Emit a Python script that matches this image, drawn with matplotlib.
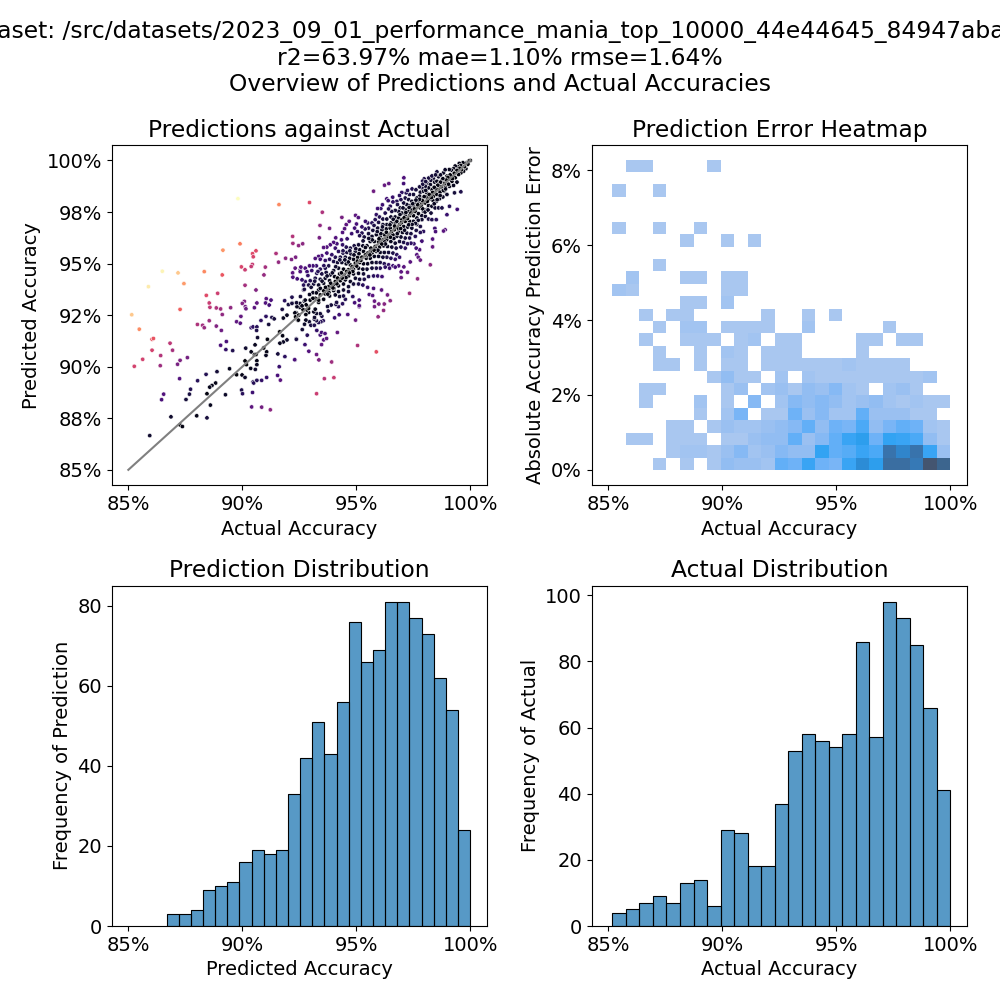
from __future__ import annotations

import matplotlib

matplotlib.use("Agg")

import matplotlib.pyplot as plt
import numpy as np
from matplotlib.colors import LinearSegmentedColormap
from matplotlib.ticker import PercentFormatter

TITLE_LINES = [
    "Dataset: /src/datasets/2023_09_01_performance_mania_top_10000_44e44645_84947aba.tar",
    "r2=63.97% mae=1.10% rmse=1.64%",
    "Overview of Predictions and Actual Accuracies",
]

# (actual, predicted)
sparse_upper = [
    (89.81, 98.15), (91.61, 97.86), (92.21, 96.32), (92.22, 95.98), (92.47, 95.87), (89.90, 95.96),
    (89.15, 95.65), (90.60, 95.62), (90.45, 95.48), (90.48, 95.33), (91.48, 95.49), (91.90, 95.26),
    (91.59, 95.07), (92.16, 95.20), (92.34, 95.31), (90.44, 94.96), (90.39, 94.86), (89.96, 94.84),
    (90.12, 94.70), (91.01, 94.83), (86.49, 94.63), (87.18, 94.55), (88.33, 94.61), (89.12, 94.45),
    (90.95, 94.45), (92.21, 94.55), (92.32, 94.78), (92.22, 94.34), (92.41, 94.26), (92.54, 94.70),
    (87.44, 94.03), (85.88, 93.88), (90.12, 93.95), (90.60, 93.72), (88.92, 93.56), (88.42, 93.46),
    (91.05, 93.30), (91.26, 93.23), (92.18, 93.37), (91.86, 93.20), (92.02, 93.01), (92.19, 93.09),
    (91.02, 93.09), (91.18, 92.99), (90.09, 93.17), (90.00, 93.07), (90.64, 93.09), (88.55, 93.09),
    (88.58, 92.88), (90.13, 92.91), (90.16, 92.81), (90.53, 92.86), (89.49, 92.86), (88.86, 92.85),
    (89.05, 92.80), (87.27, 92.78), (91.75, 92.78), (92.41, 92.91),
]
sparse_lower = [
    (85.15, 92.52), (85.48, 91.82), (86.04, 91.33), (86.10, 91.37), (86.04, 90.80), (86.83, 91.14),
    (86.94, 90.80), (86.42, 90.54), (85.63, 90.36), (85.26, 90.02), (86.40, 90.05), (87.27, 90.31),
    (87.59, 90.44), (87.16, 90.12), (87.25, 89.42), (86.55, 88.67), (86.46, 88.40), (88.03, 92.05),
    (88.26, 92.01), (88.33, 91.89), (88.55, 92.23), (88.86, 91.97), (89.12, 92.53), (89.08, 91.76),
    (89.75, 92.18), (89.91, 92.11), (89.94, 92.44), (90.39, 91.89), (90.47, 91.93), (90.64, 91.93),
    (90.63, 91.76), (90.82, 92.24), (91.04, 92.44), (91.30, 92.39), (91.40, 92.32), (91.16, 92.05),
    (91.80, 92.36), (91.96, 92.50), (92.32, 92.61), (92.43, 92.26), (90.67, 91.41), (91.10, 91.33),
    (91.64, 91.69), (91.77, 91.50), (91.96, 91.30), (92.37, 91.35), (91.80, 91.20), (91.65, 91.14),
    (90.56, 91.06), (90.15, 90.90), (89.05, 91.04), (89.30, 91.22), (89.28, 90.83), (89.58, 90.78),
    (90.39, 90.72), (90.53, 90.59), (90.60, 90.59), (90.94, 90.91), (91.07, 90.72), (91.04, 90.55),
    (91.56, 90.62), (91.87, 90.49), (92.31, 90.33), (90.12, 90.28), (90.64, 90.29), (90.64, 90.10),
    (90.18, 90.10), (90.37, 89.92), (90.57, 89.87), (89.44, 89.90), (88.89, 89.76), (88.41, 89.63),
    (89.75, 89.61), (89.99, 89.60), (90.12, 89.48), (88.04, 89.32), (88.83, 89.21), (88.67, 89.09),
    (88.57, 89.01), (87.73, 88.91), (87.68, 88.67), (87.53, 88.41), (88.45, 88.69), (89.26, 88.64),
    (88.60, 88.14), (86.87, 87.57), (88.00, 87.62), (88.45, 87.52), (87.27, 87.18), (87.37, 87.10),
    (85.94, 86.66), (90.47, 89.26), (90.50, 89.21), (90.64, 89.34), (90.85, 89.34), (91.07, 89.48),
    (91.55, 89.58), (91.62, 90.00), (91.67, 89.35), (89.97, 88.87), (90.01, 88.69), (90.45, 88.75),
    (90.41, 88.05), (90.85, 88.04), (91.23, 87.91),
]
band_low = [
    (95.88, 90.72), (95.06, 91.03), (93.92, 90.23), (93.60, 89.42), (94.02, 89.47), (93.26, 88.69),
    (92.30, 90.34), (93.36, 90.33), (93.26, 90.59), (92.92, 90.75), (92.75, 91.07), (93.48, 91.07),
    (93.57, 91.30), (93.70, 91.37), (93.42, 91.54), (93.48, 91.66), (93.63, 91.61), (94.17, 91.66),
    (92.37, 91.33), (92.85, 91.53), (92.63, 91.80), (93.27, 91.76), (94.97, 92.26), (95.96, 92.42),
    (96.20, 92.73), (95.80, 92.91), (96.23, 93.04), (95.99, 93.04), (96.49, 93.20), (95.80, 93.18),
    (95.13, 92.91), (95.13, 92.96), (94.63, 92.53), (94.25, 92.52), (94.05, 92.37), (94.22, 92.91),
    (94.40, 93.05), (94.11, 93.02), (93.90, 92.99), (93.74, 92.92), (93.77, 92.70), (94.14, 93.12),
    (94.93, 93.10), (93.55, 92.23), (93.45, 92.18), (93.35, 92.14), (93.25, 92.23), (93.16, 92.31),
    (93.17, 92.39), (92.94, 92.18), (92.79, 92.26), (92.46, 92.26), (92.73, 92.06), (93.01, 92.01),
    (93.16, 92.01), (93.49, 92.45), (93.42, 92.57), (93.25, 92.58), (93.14, 92.66), (92.91, 92.63),
    (92.79, 92.53), (92.84, 92.75), (93.20, 92.79), (92.91, 92.83), (92.66, 92.78), (92.51, 92.88),
    (92.40, 92.91), (92.37, 92.61), (92.31, 92.61), (92.34, 92.42), (92.53, 93.07), (92.18, 93.07),
    (92.72, 93.18), (93.35, 93.12),
]
band_edges = [
    (100.00, 100.00), (92.95, 97.96), (93.51, 97.49), (93.41, 96.85), (93.83, 96.71), (93.38, 96.25),
    (92.65, 95.96), (94.37, 97.24), (94.69, 97.05), (94.56, 96.89), (94.49, 96.69), (94.40, 96.51),
    (94.97, 97.34), (95.09, 97.23), (95.01, 96.92), (94.93, 96.72), (95.76, 98.51), (96.24, 98.80),
    (96.43, 98.88), (97.09, 99.16), (97.08, 98.88), (96.34, 98.14), (98.25, 94.94), (97.69, 94.26),
    (97.34, 93.56), (96.97, 94.32), (96.97, 94.60), (97.25, 94.58), (97.09, 94.84), (97.37, 95.08),
    (97.66, 95.43), (97.72, 95.31), (97.81, 95.17), (98.35, 96.19), (98.35, 95.81), (97.88, 96.09),
    (97.78, 95.67), (97.63, 95.75), (97.53, 95.96), (97.40, 95.99), (98.45, 96.71), (98.48, 96.55),
    (98.90, 96.64), (98.83, 96.58), (98.98, 97.37), (99.43, 97.63), (99.09, 97.78), (99.59, 98.48),
    (99.31, 98.43), (95.76, 93.80), (95.57, 93.50), (95.72, 93.45), (96.37, 93.48), (96.11, 93.72),
    (95.13, 93.23), (94.85, 93.40), (94.52, 93.27),
]
band_top = [
    (99.94, 99.97), (99.85, 99.89), (99.78, 99.86), (99.68, 99.89), (99.52, 99.86), (99.59, 99.76),
    (99.46, 99.69), (99.34, 99.73), (99.27, 99.60), (99.17, 99.53), (99.08, 99.56), (99.81, 99.60),
    (99.71, 99.48), (99.59, 99.40), (99.49, 99.32), (99.37, 99.45), (99.27, 99.27), (98.83, 99.40),
    (98.98, 99.24), (98.54, 99.45), (98.61, 99.21), (98.39, 99.11), (98.27, 99.04), (97.98, 99.11),
    (97.91, 99.00), (98.10, 98.91), (98.25, 98.83), (98.44, 98.95), (98.54, 98.99), (98.64, 98.88),
    (98.76, 99.04), (98.90, 98.95), (99.09, 99.11), (99.20, 98.99), (99.34, 99.16), (99.42, 98.95),
    (99.27, 98.79), (99.09, 98.75), (98.90, 98.75), (98.76, 98.67), (98.61, 98.59), (98.46, 98.51),
    (98.32, 98.59), (98.17, 98.67), (98.03, 98.75), (97.88, 98.67), (97.81, 98.46), (97.95, 98.51),
    (98.10, 98.43), (98.25, 98.35), (98.39, 98.27), (98.54, 98.35), (98.68, 98.46), (98.86, 98.51),
    (98.98, 98.35), (98.80, 98.23), (98.65, 98.14), (98.51, 98.02), (98.36, 98.07), (98.22, 98.14),
    (98.07, 98.23), (97.92, 98.18), (97.78, 98.27), (97.66, 98.18), (97.51, 98.35), (97.34, 98.35),
    (97.19, 98.43), (97.15, 98.18), (97.30, 98.10), (97.44, 98.02), (97.59, 97.94), (97.73, 98.02),
    (97.88, 97.91), (98.03, 97.94), (98.17, 97.81), (98.32, 97.78), (98.46, 97.70), (98.61, 97.70),
    (98.76, 97.70), (98.10, 97.62), (97.95, 97.53), (97.81, 97.70), (97.66, 97.78), (97.51, 97.78),
    (97.37, 97.81), (97.22, 97.86), (97.08, 97.94), (96.96, 98.10), (96.78, 98.02), (96.61, 97.99),
    (96.49, 97.78), (96.81, 97.86), (96.93, 97.70), (97.15, 97.62), (97.30, 97.53), (97.44, 97.62),
    (97.59, 97.53), (97.73, 97.42), (97.88, 97.32), (98.03, 97.29), (98.17, 97.16), (98.32, 97.13),
    (98.51, 97.13), (97.88, 97.13), (97.66, 97.21), (97.51, 97.32), (97.34, 97.32), (97.15, 97.37),
    (97.00, 97.45), (96.86, 97.53), (96.71, 97.58), (96.56, 97.53), (96.42, 97.65), (96.27, 97.45),
    (96.08, 97.67), (95.94, 97.67), (95.88, 97.37), (96.02, 97.26), (96.17, 97.16), (96.34, 97.16),
    (96.52, 97.26), (96.71, 97.26), (96.86, 97.21), (97.00, 97.13), (97.15, 97.05), (97.34, 97.05),
    (97.51, 97.05), (97.66, 96.89), (97.81, 96.80), (97.95, 96.56), (97.81, 96.51), (97.63, 96.61),
    (97.44, 96.72), (97.25, 96.77), (97.08, 96.80), (96.90, 96.89), (96.71, 96.97), (96.52, 96.97),
]
band_mid = [
    (96.34, 96.89), (96.17, 96.89), (95.98, 97.00), (95.83, 97.13), (95.69, 96.97), (95.50, 96.97),
    (95.54, 96.72), (95.39, 96.68), (95.25, 96.48), (95.15, 96.35), (95.35, 96.29), (95.54, 96.45),
    (95.73, 96.61), (95.94, 96.72), (96.13, 96.64), (96.32, 96.68), (96.49, 96.72), (96.67, 96.64),
    (96.86, 96.56), (97.03, 96.51), (97.22, 96.48), (97.40, 96.45), (97.59, 96.32), (97.34, 96.24),
    (97.15, 96.24), (96.96, 96.29), (96.78, 96.32), (96.61, 96.40), (96.42, 96.40), (96.23, 96.40),
    (96.05, 96.32), (95.88, 96.40), (95.69, 96.32), (95.61, 96.07), (95.79, 96.07), (95.98, 96.07),
    (96.17, 96.16), (96.34, 96.16), (96.52, 96.07), (96.71, 95.99), (96.90, 96.07), (97.08, 96.03),
    (97.25, 95.96), (97.15, 95.75), (96.96, 95.80), (96.75, 95.75), (96.56, 95.80), (96.37, 95.83),
    (96.20, 95.86), (96.02, 95.80), (95.83, 95.83), (95.64, 95.75), (95.47, 95.86), (95.29, 95.86),
    (95.10, 95.91), (94.91, 95.86), (94.74, 95.75), (94.56, 95.80), (94.40, 95.91), (94.15, 95.96),
    (94.01, 96.03), (93.86, 95.91), (93.71, 95.80), (93.57, 95.78), (94.08, 95.75), (94.22, 95.59),
    (94.42, 95.51), (94.59, 95.54), (94.77, 95.47), (94.96, 95.59), (95.15, 95.67), (95.32, 95.59),
    (95.50, 95.51), (95.69, 95.51), (95.88, 95.59), (96.05, 95.54), (96.23, 95.54), (96.42, 95.54),
    (96.61, 95.51), (96.78, 95.43), (96.90, 95.31), (96.71, 95.21), (96.52, 95.26), (96.34, 95.31),
    (96.17, 95.31), (95.98, 95.35), (95.79, 95.35), (95.61, 95.26), (95.44, 95.26), (95.25, 95.31),
    (95.06, 95.31), (94.88, 95.21), (94.71, 95.26), (94.52, 95.31), (94.30, 95.31), (94.08, 95.31),
    (93.93, 95.43), (93.71, 95.51), (93.49, 95.38), (93.35, 95.35), (93.20, 95.25), (93.42, 95.21),
    (93.64, 95.15), (93.83, 95.21), (94.01, 95.10), (94.18, 95.05), (94.37, 95.05), (94.56, 94.99),
    (94.74, 94.94), (94.96, 95.02), (95.15, 95.05), (95.32, 94.99), (95.50, 94.99), (95.69, 95.05),
    (95.88, 95.05), (96.05, 95.05), (96.23, 94.99), (96.42, 94.94), (96.61, 94.89), (96.86, 94.89),
    (96.71, 94.83), (96.46, 94.78), (96.27, 94.83), (96.05, 94.78), (95.88, 94.78), (95.69, 94.78),
    (95.47, 94.73), (95.29, 94.73), (95.10, 94.78), (94.88, 94.73), (94.66, 94.70), (94.44, 94.73),
    (94.22, 94.78), (94.01, 94.66), (93.79, 94.89), (93.64, 94.78), (93.42, 94.73), (93.25, 94.89),
    (93.10, 94.89), (92.95, 94.89), (92.76, 94.78), (92.57, 94.83), (92.54, 94.61), (92.84, 94.61),
    (93.05, 94.66), (93.27, 94.53), (93.49, 94.50), (93.68, 94.57), (93.86, 94.45), (94.05, 94.37),
    (94.27, 94.50), (94.47, 94.45), (94.66, 94.40), (94.88, 94.50), (95.10, 94.53), (95.32, 94.50),
    (95.54, 94.37), (95.76, 94.40), (95.94, 94.40), (96.13, 94.37), (95.35, 94.24), (95.15, 94.24),
    (94.96, 94.29), (94.74, 94.13), (94.52, 94.21), (94.30, 94.17), (94.08, 94.13), (93.83, 94.17),
    (93.64, 94.29), (93.42, 94.24), (93.20, 94.29), (92.98, 94.17), (92.76, 94.13), (92.62, 94.21),
    (92.69, 93.96), (92.91, 93.96), (93.13, 94.01), (93.35, 93.96), (93.57, 94.05), (93.79, 93.88),
    (94.01, 93.96), (94.22, 93.92), (94.44, 94.01), (94.66, 93.88), (94.88, 94.01), (95.10, 94.01),
    (95.29, 93.96), (95.50, 93.85), (93.35, 93.72), (93.57, 93.69), (93.79, 93.75), (94.01, 93.69),
    (94.22, 93.64), (94.44, 93.72), (94.66, 93.64), (93.10, 93.59), (92.69, 93.72), (93.42, 93.48),
    (93.64, 93.53), (93.83, 93.43), (94.08, 93.48), (94.27, 93.40), (94.44, 93.43), (93.20, 93.32),
    (92.98, 93.23), (92.76, 93.23), (93.35, 93.23), (93.57, 93.27),
]
# points hidden in the crowded middle of the band, rough estimates
band_dense = [
    (99.90, 99.82), (99.75, 99.70), (99.62, 99.55), (99.55, 99.62), (99.42, 99.52), (99.30, 99.38),
    (99.22, 99.12), (99.12, 99.30), (99.02, 99.18), (98.95, 99.05), (98.88, 98.88), (98.80, 99.12),
    (98.70, 98.95), (98.72, 98.72), (98.58, 98.80), (98.50, 98.62), (98.42, 98.70), (98.35, 98.45),
    (98.30, 98.20), (98.20, 98.35), (98.12, 98.02), (98.05, 98.55), (97.98, 98.25), (97.90, 98.05),
    (97.85, 97.78), (97.78, 98.12), (97.70, 97.85), (97.62, 98.08), (97.55, 97.65), (97.48, 97.90),
    (97.40, 97.45), (97.32, 97.72), (97.25, 97.18), (97.18, 97.48), (97.10, 97.22), (97.05, 97.70),
    (96.98, 96.98), (96.92, 97.38), (96.84, 96.72), (96.78, 97.05), (96.68, 96.82), (96.62, 97.15),
    (96.55, 96.55), (96.48, 96.88), (96.40, 96.30), (96.32, 96.52), (96.25, 96.05), (96.15, 96.78),
    (96.08, 96.45), (96.00, 96.20), (95.92, 96.55), (95.85, 95.72), (95.78, 96.85), (95.70, 96.15),
    (95.62, 95.60), (95.55, 96.22), (95.48, 95.38), (95.40, 95.78), (95.30, 96.10), (95.22, 95.15),
    (95.12, 95.48), (95.05, 95.12), (94.98, 95.72), (94.90, 95.42), (94.82, 94.85), (94.72, 95.62),
    (94.65, 95.08), (94.58, 94.62), (94.50, 95.18), (94.42, 95.62), (94.35, 94.55), (94.28, 95.18),
    (94.18, 94.30), (94.10, 94.85), (94.02, 93.80), (93.95, 94.55), (93.88, 94.05), (93.80, 93.60),
    (93.72, 94.40), (93.65, 93.85), (93.58, 94.90), (93.50, 94.15), (93.42, 93.80), (93.32, 94.62),
    (93.25, 93.58), (93.18, 94.15), (93.10, 93.32), (93.02, 93.85), (92.95, 93.50), (92.88, 94.42),
    (92.80, 93.00), (92.72, 93.75), (92.62, 92.95), (92.55, 93.40), (92.48, 92.50), (92.38, 93.10),
    (97.92, 97.65), (98.02, 97.50), (98.15, 97.60), (98.28, 97.45), (98.42, 97.90), (98.55, 98.10),
    (98.68, 98.30), (98.82, 98.55), (98.92, 98.62), (99.05, 98.85), (97.72, 97.10), (97.60, 96.95),
    (97.45, 96.90), (97.30, 96.88), (97.12, 96.62), (96.95, 96.70), (96.80, 96.45), (96.65, 96.22),
    (96.50, 96.28), (96.28, 95.95), (96.12, 95.95), (95.95, 95.65), (95.78, 95.65), (95.60, 95.42),
    (95.40, 95.42), (95.20, 95.15), (95.02, 94.88), (94.85, 94.62), (94.70, 94.55), (94.55, 94.32),
    (94.38, 94.30), (94.15, 94.02), (93.98, 93.82), (93.75, 93.52), (97.00, 98.45), (96.90, 98.30),
    (97.25, 98.55), (97.45, 98.62), (97.62, 98.58), (97.78, 98.72), (97.92, 98.85), (98.05, 98.98),
    (98.18, 99.15), (98.32, 99.25), (98.48, 99.30), (98.70, 99.30), (98.90, 99.55), (96.60, 98.22),
    (96.40, 98.05), (96.15, 97.85), (95.40, 97.05), (95.25, 96.78), (95.05, 96.55), (94.80, 96.45),
    (94.60, 96.20), (94.35, 96.15), (94.10, 96.25),
]

# error heatmap counts, top row first, 25 x 25 cells
heat_counts = [
    [0, 1, 1, 0, 0, 0, 0, 1, 0, 0, 0, 0, 0, 0, 0, 0, 0, 0, 0, 0, 0, 0, 0, 0, 0],
    [0] * 25,
    [1, 0, 0, 1, 0, 0, 0, 0, 0, 0, 0, 0, 0, 0, 0, 0, 0, 0, 0, 0, 0, 0, 0, 0, 0],
    [0] * 25,
    [0] * 25,
    [1, 0, 0, 1, 0, 0, 1, 0, 0, 0, 0, 0, 0, 0, 0, 0, 0, 0, 0, 0, 0, 0, 0, 0, 0],
    [0, 0, 0, 0, 0, 1, 0, 0, 1, 0, 1, 0, 0, 0, 0, 0, 0, 0, 0, 0, 0, 0, 0, 0, 0],
    [0] * 25,
    [0, 0, 0, 1, 0, 0, 0, 0, 0, 0, 0, 0, 0, 0, 0, 0, 0, 0, 0, 0, 0, 0, 0, 0, 0],
    [0, 2, 0, 0, 0, 1, 1, 0, 1, 1, 0, 0, 0, 0, 0, 0, 0, 0, 0, 0, 0, 0, 0, 0, 0],
    [2, 1, 0, 0, 0, 0, 0, 0, 1, 1, 0, 0, 0, 0, 0, 0, 0, 0, 0, 0, 0, 0, 0, 0, 0],
    [0, 0, 0, 0, 0, 1, 1, 0, 2, 0, 0, 0, 0, 0, 0, 0, 0, 0, 0, 0, 0, 0, 0, 0, 0],
    [0, 0, 1, 0, 1, 1, 0, 0, 0, 0, 0, 1, 0, 0, 1, 0, 1, 0, 0, 0, 0, 0, 0, 0, 0],
    [0, 0, 0, 1, 0, 2, 2, 0, 1, 1, 1, 1, 0, 0, 2, 0, 0, 0, 0, 0, 1, 0, 0, 0, 0],
    [0, 0, 1, 0, 0, 1, 1, 1, 0, 1, 2, 0, 1, 1, 0, 0, 0, 0, 1, 1, 0, 1, 1, 0, 0],
    [0, 0, 0, 1, 0, 0, 1, 0, 2, 1, 0, 1, 1, 1, 0, 0, 0, 0, 1, 0, 0, 0, 0, 0, 0],
    [0, 0, 0, 1, 1, 0, 1, 0, 1, 1, 0, 1, 1, 1, 1, 1, 1, 2, 1, 1, 1, 1, 0, 0, 0],
    [0, 0, 0, 0, 0, 0, 0, 1, 4, 1, 1, 0, 2, 0, 2, 1, 1, 1, 1, 1, 1, 1, 1, 2, 0],
    [0, 0, 1, 1, 0, 0, 0, 0, 1, 3, 0, 2, 3, 1, 4, 3, 5, 2, 1, 0, 2, 3, 1, 0, 0],
    [0, 0, 1, 0, 0, 0, 2, 0, 1, 0, 5, 0, 2, 5, 4, 5, 4, 2, 3, 4, 2, 1, 2, 1, 1],
    [0, 0, 0, 0, 0, 0, 1, 0, 2, 6, 0, 1, 1, 7, 3, 5, 2, 2, 8, 3, 3, 3, 1, 1, 0],
    [0, 0, 0, 0, 1, 1, 0, 1, 3, 2, 2, 3, 4, 5, 8, 4, 7, 6, 10, 4, 6, 8, 7, 2, 1],
    [0, 1, 1, 0, 1, 1, 1, 0, 1, 1, 3, 4, 4, 8, 3, 5, 8, 12, 14, 7, 13, 12, 10, 4, 1],
    [0, 0, 0, 0, 1, 2, 2, 1, 3, 5, 2, 3, 5, 4, 4, 13, 8, 9, 12, 10, 20, 17, 20, 12, 3],
    [0, 0, 0, 1, 0, 1, 0, 1, 4, 3, 3, 2, 8, 7, 12, 7, 6, 12, 16, 14, 21, 21, 19, 30, 24],
]
heat_max_error = 8.28

prediction_counts = [3, 3, 4, 9, 10, 11, 16, 19, 18, 19, 33, 42, 51, 43, 56, 76, 66, 69, 81, 81, 77, 73, 62, 54, 24]
actual_counts = [4, 5, 7, 9, 7, 13, 14, 6, 29, 28, 18, 18, 37, 53, 58, 56, 54, 58, 86, 57, 98, 93, 85, 66, 41]
prediction_min = 86.68
actual_min = 85.18

HEAT_STOPS = [
    (0.0, "#a9c7f0"), (0.10, "#93bdf2"), (0.2, "#6fb2f7"), (0.33, "#44a7f6"), (0.43, "#2ea2f2"),
    (0.5, "#2a90dc"), (0.6, "#357cbc"), (0.7, "#3a6c9e"), (0.83, "#3d6289"), (1.0, "#445570"),
]


def style_percent(ax) -> None:
    ax.xaxis.set_major_formatter(PercentFormatter(decimals=0))
    ax.set_xticks([85, 90, 95, 100])
    ax.set_xlim(84.27, 100.75)
    ax.tick_params(labelsize=14)


def plot_scatter(ax) -> None:
    points = np.array(sparse_upper + sparse_lower + band_low + band_edges + band_top + band_mid + band_dense)
    actual, predicted = points[:, 0], points[:, 1]
    error = np.abs(predicted - actual)
    ax.scatter(actual, predicted, c=error, cmap="magma", vmin=0, vmax=8.33, s=10, edgecolors="white", linewidths=0.4)
    ax.plot([85, 100], [85, 100], color="gray", linewidth=1.5)
    style_percent(ax)
    ax.set_yticks(np.arange(85, 100.1, 2.5))
    ax.yaxis.set_major_formatter(PercentFormatter(decimals=0))
    ax.set_ylim(84.25, 100.75)
    ax.set_title("Predictions against Actual", fontsize=16.8)
    ax.set_xlabel("Actual Accuracy", fontsize=14)
    ax.set_ylabel("Predicted Accuracy", fontsize=14)


def plot_heatmap(ax) -> None:
    counts = np.array(heat_counts, dtype=float)[::-1]
    x_edges = np.linspace(actual_min, 100, counts.shape[1] + 1)
    y_edges = np.linspace(0, heat_max_error, counts.shape[0] + 1)
    cmap = LinearSegmentedColormap.from_list("error_heat", HEAT_STOPS)
    ax.pcolormesh(x_edges, y_edges, np.ma.masked_equal(counts, 0), cmap=cmap, vmin=1, vmax=30)
    style_percent(ax)
    ax.set_yticks([0, 2, 4, 6, 8])
    ax.yaxis.set_major_formatter(PercentFormatter(decimals=0))
    ax.set_ylim(-0.41, 8.67)
    ax.set_title("Prediction Error Heatmap", fontsize=16.8)
    ax.set_xlabel("Actual Accuracy", fontsize=14)
    ax.set_ylabel("Absolute Accuracy Prediction Error", fontsize=14)


def plot_hist(ax, counts, low, title, xlabel, ylabel) -> None:
    edges = np.linspace(low, 100, len(counts) + 1)
    ax.bar(edges[:-1], counts, width=np.diff(edges), align="edge", color="#1f77b4", alpha=0.75, linewidth=0)
    # opaque outlines on top, alpha would wash them out
    ax.bar(edges[:-1], counts, width=np.diff(edges), align="edge", fill=False, edgecolor="black", linewidth=0.8)
    style_percent(ax)
    ax.set_ylim(0, max(counts) * 1.05)
    ax.set_title(title, fontsize=16.8)
    ax.set_xlabel(xlabel, fontsize=14)
    ax.set_ylabel(ylabel, fontsize=14)


def main() -> None:
    fig, axes = plt.subplots(2, 2, figsize=(10, 10), dpi=100)
    plot_scatter(axes[0, 0])
    plot_heatmap(axes[0, 1])
    plot_hist(axes[1, 0], prediction_counts, prediction_min, "Prediction Distribution", "Predicted Accuracy", "Frequency of Prediction")
    plot_hist(axes[1, 1], actual_counts, actual_min, "Actual Distribution", "Actual Accuracy", "Frequency of Actual")
    fig.suptitle("\n".join(TITLE_LINES), fontsize=16.8, y=0.98)
    fig.subplots_adjust(left=0.1117, right=0.9673, top=0.855, bottom=0.074, wspace=0.278, hspace=0.295)
    fig.savefig("out.png", dpi=100)


if __name__ == "__main__":
    main()
